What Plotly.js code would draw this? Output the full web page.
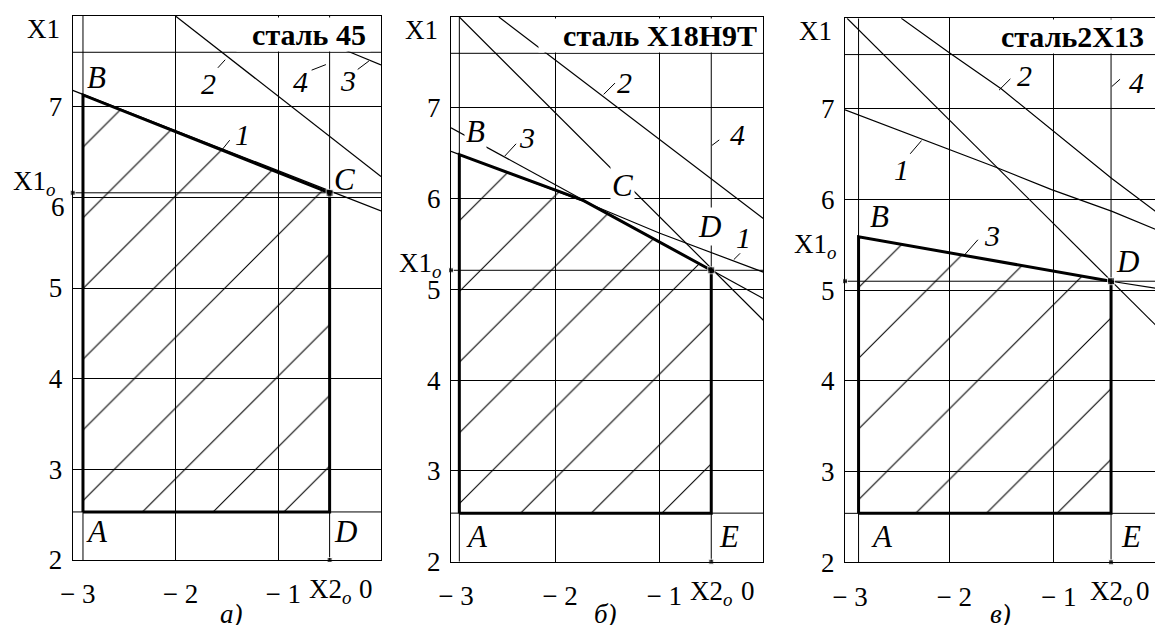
<!DOCTYPE html>
<html>
<head>
<meta charset="utf-8">
<script src="https://cdn.plot.ly/plotly-3.0.1.min.js"></script>
<style>html,body{margin:0;padding:0;overflow:hidden;background:#fff}</style>
</head>
<body>
<div id="chart" style="width:1160px;height:625px"></div>
<script>
// общие оси
const X2_RANGE = [-3, 0];
const X1_RANGE = [2, 8];
const X2_TICKS = [-3, -2, -1];
const X2_TEXT = ['\u2212 3', '\u2212 2', '\u2212 1'];
const X1_TICKS = [2, 3, 4, 5, 6, 7];
const X1_MAX = 7.6;

// а) сталь 45
const a_title = 'сталь 45';
const a_x2min = -2.9, a_x2o = -0.5, a_x1min = 2.53, a_x1o = 6.05;
const a_region_x2 = [a_x2min, a_x2min, a_x2o, a_x2o];
const a_region_x1 = [a_x1min, 7.13, a_x1o, a_x1min];
const a_c1_x2 = [-3, 0], a_c1_x1 = [7.18, 5.85];
const a_c2_x2 = [-2, 0], a_c2_x1 = [8, 6.23];
const a_c3_x2 = [-0.34, 0], a_c3_x1 = [7.62, 7.46];
const a_vtx = ['A', 'B', 'C', 'D'];
const a_lbl = ['1', '2', '3', '4'];
const a_lbl_x2 = [-1.55, -1.49, -0.11, a_x2o];
const a_lbl_x1 = [6.52, 7.55, 7.51, 7.48];

// б) сталь Х18Н9Т
const b_title = 'сталь Х18Н9Т';
const b_x2min = -2.92, b_x2o = -0.5, b_x1min = 2.535, b_x1o = 5.21;
const b_region_x2 = [b_x2min, b_x2min, -1.73, b_x2o, b_x2o];
const b_region_x1 = [b_x1min, 6.485, 5.98, b_x1o, b_x1min];
const b_c1_x2 = [-3, -1.73, -1, 0], b_c1_x1 = [6.52, 5.97, 5.62, 5.19];
const b_c2_x2 = [-2.54, 0], b_c2_x1 = [8, 5.78];
const b_c3_x2 = [-3, 0], b_c3_x1 = [6.78, 4.9];
const b_c5_x2 = [-2.92, 0], b_c5_x1 = [8, 4.66];
const b_vtx = ['A', 'B', 'C', 'D', 'E'];
const b_lbl = ['1', '2', '3', '4'];
const b_lbl_x2 = [-0.29, -1.54, -2.49, b_x2o];
const b_lbl_x1 = [5.32, 7.14, 6.46, 6.58];

// в) сталь 2Х13
const c_title = 'сталь2Х13';
const c_x2min = -2.87, c_x2o = -0.45, c_x1min = 2.54, c_x1o = 5.1;
const c_region_x2 = [c_x2min, c_x2min, c_x2o, c_x2o];
const c_region_x1 = [c_x1min, 5.59, c_x1o, c_x1min];
const c_c1_x2 = [-3, -2.27, -1.56, -1.02, -0.44, 0];
const c_c1_x1 = [6.99, 6.67, 6.36, 6.11, 5.87, 5.66];
const c_c2_x2 = [-2.46, -2, -1.5, -0.99, -0.44, 0];
const c_c2_x1 = [8, 7.62, 7.22, 6.74, 6.23, 5.85];
const c_c3_x2 = [-2.87, -0.45, 0], c_c3_x1 = [5.59, 5.1, 5.02];
const c_c5_x2 = [-2.98, 0], c_c5_x1 = [8, 4.59];
const c_vtx = ['A', 'B', 'D', 'E'];
const c_lbl = ['1', '2', '3', '4'];
const c_lbl_x2 = [-2.26, -1.53, -1.87, c_x2o];
const c_lbl_x1 = [6.66, 7.2, 5.37, 7.24];

const W = 1160, H = 625;
const SERIF = 'Liberation Serif, Times New Roman, serif';
const BLACK = '#000';

const panels = [
  {
    title: a_title, caption: 'а)', x2min: a_x2min, x2o: a_x2o, x1min: a_x1min, x1o: a_x1o,
    region: [a_region_x2, a_region_x1],
    curves: [[a_c1_x2, a_c1_x1], [a_c2_x2, a_c2_x1], [a_c3_x2, a_c3_x1]],
    vtx: a_vtx, lbl: a_lbl, lblX: a_lbl_x2, lblY: a_lbl_x1,
    // оформление: сдвиги подписей в пикселях
    dom: {x: [72.7, 381], y: [16, 560]},
    vtxShift: [[14, -20], [14, 17], [15, 13], [16, -20]], vtxBg: [],
    lead: [[8, -10, 0], [-10, 11, 4], [-12, 9, 1], [-18, 7, 4]],
    lblShift: [[21, 16], [-19, -27], [-22, -20], [-29, -18]],
    box: {w: 125, xshift: -10}, x1oShift: [-16, 10], captionX: -1.45, six: -10
  },
  {
    title: b_title, caption: 'б)', x2min: b_x2min, x2o: b_x2o, x1min: b_x1min, x1o: b_x1o,
    region: [b_region_x2, b_region_x1],
    curves: [[b_c1_x2, b_c1_x1], [b_c2_x2, b_c2_x1], [b_c3_x2, b_c3_x1], [b_c5_x2, b_c5_x1]],
    vtx: b_vtx, lbl: b_lbl, lblX: b_lbl_x2, lblY: b_lbl_x1,
    dom: {x: [451, 763.3], y: [17, 561.7]},
    vtxShift: [[18, -23], [16, 23], [39, 15], [-2, 44], [18, -23]], vtxBg: [1, 2, 3],
    lead: [[7, -7, 1], [12, -12, 1], [12, -13, 1], [8, -6, 1]],
    lblShift: [[10, 23], [22, 13], [23, 19], [26, 11]],
    box: {w: 214, xshift: -1}, x1oShift: [-8, 5], captionX: -1.52, six: 0
  },
  {
    title: c_title, caption: 'в)', x2min: c_x2min, x2o: c_x2o, x1min: c_x1min, x1o: c_x1o,
    region: [c_region_x2, c_region_x1],
    curves: [[c_c1_x2, c_c1_x1], [c_c2_x2, c_c2_x1], [c_c3_x2, c_c3_x1], [c_c5_x2, c_c5_x1]],
    vtx: c_vtx, lbl: c_lbl, lblX: c_lbl_x2, lblY: c_lbl_x1,
    dom: {x: [845, 1158], y: [18.3, 562.3]},
    vtxShift: [[23, -23], [21, 20], [16, 20], [20, -23]], vtxBg: [],
    lead: [[-12, 14, 1], [12, -12, 1], [15, -17, 1], [9, -8, 1]],
    lblShift: [[-21, -30], [26, 15], [29, 21], [25, 5]],
    box: {w: 150, xshift: -9}, x1oShift: [-7, 35], captionX: -1.51, six: 0
  }
];

const traces = [];
const annotations = [];
const shapes = [];
const layout = {
  width: W, height: H,
  margin: {l: 0, r: 0, t: 0, b: 0},
  paper_bgcolor: '#fff', plot_bgcolor: '#fff',
  showlegend: false,
  font: {family: SERIF, color: BLACK}
};

function label(xa, ya, x, y, text, extra) {
  annotations.push(Object.assign({
    xref: xa, yref: ya, x: x, y: y, text: text, showarrow: false,
    font: {family: SERIF, size: 27, color: BLACK}
  }, extra));
}

panels.forEach(function (p, i) {
  const n = i + 1;
  const xa = n === 1 ? 'x' : 'x' + n;
  const ya = n === 1 ? 'y' : 'y' + n;
  const common = {xaxis: xa, yaxis: ya, hoverinfo: 'skip', showlegend: false};

  // штриховка допустимой области
  traces.push(Object.assign({
    x: p.region[0], y: p.region[1], mode: 'none', fill: 'toself',
    fillcolor: 'rgba(0,0,0,0)',
    fillpattern: {shape: '/', size: 50, solidity: 0.022, fgcolor: BLACK, bgcolor: 'rgba(0,0,0,0)'}
  }, common));

  // маркеры ограничений и оптимума
  traces.push(Object.assign({
    x: [p.x2min, p.x2min, null, p.x2o, p.x2o, null,
        X2_RANGE[0], X2_RANGE[1], null, X2_RANGE[0], X2_RANGE[1], null, X2_RANGE[0], X2_RANGE[1]],
    y: [X1_RANGE[0], X1_RANGE[1], null, X1_RANGE[0], X1_RANGE[1], null,
        p.x1min, p.x1min, null, p.x1o, p.x1o, null, X1_MAX, X1_MAX],
    mode: 'lines', line: {color: BLACK, width: 1}
  }, common));

  p.curves.forEach(function (c) {
    traces.push(Object.assign({x: c[0], y: c[1], mode: 'lines', line: {color: BLACK, width: 1.2}}, common));
  });

  // граница области
  traces.push(Object.assign({
    x: p.region[0].concat([p.region[0][0]]), y: p.region[1].concat([p.region[1][0]]),
    mode: 'lines', line: {color: BLACK, width: 3}
  }, common));

  traces.push(Object.assign({
    x: [X2_RANGE[0], p.x2o, p.x2o], y: [p.x1o, X1_RANGE[0], p.x1o], mode: 'markers',
    marker: {symbol: 'square', size: [5, 5, 7], color: BLACK}, cliponaxis: false
  }, common));

  const axisBase = {
    ticks: '', showgrid: true, gridcolor: BLACK, gridwidth: 1, zeroline: false,
    showline: true, mirror: true, linecolor: BLACK, linewidth: 1,
    tickfont: {family: SERIF, size: 27, color: BLACK}, fixedrange: true
  };
  layout['xaxis' + (n === 1 ? '' : n)] = Object.assign({
    domain: [p.dom.x[0] / W, p.dom.x[1] / W], range: X2_RANGE, anchor: ya,
    tickvals: X2_TICKS, ticktext: X2_TEXT, ticklabelstandoff: 10, ticklabelshift: 5
  }, axisBase);
  layout['yaxis' + (n === 1 ? '' : n)] = Object.assign({
    domain: [1 - p.dom.y[1] / H, 1 - p.dom.y[0] / H], range: X1_RANGE, anchor: xa,
    tickvals: X1_TICKS,
    ticktext: X1_TICKS.map(function (v) { return (v === 6 && p.six) ? ' ' : String(v); }),
    ticklabelstandoff: 4
  }, axisBase);

  if (p.six) {
    label(xa, ya, X2_RANGE[0], 6, '6', {xanchor: 'right', xshift: -6, yshift: p.six});
  }

  // надпись марки стали
  label(xa, ya, X2_RANGE[1], X1_RANGE[1], '<b>' + p.title + '</b>', {
    xanchor: 'right', yanchor: 'top', xshift: p.box.xshift, yshift: -1,
    width: p.box.w, height: 25, borderpad: 4, bgcolor: '#fff', align: 'right',
    font: {family: SERIF, size: 30, color: BLACK}
  });

  // вершины области
  const vx = p.region[0], vy = p.region[1];
  p.vtx.forEach(function (t, k) {
    label(xa, ya, vx[k], vy[k], '<i>' + t + '</i>', {
      xshift: p.vtxShift[k][0], yshift: p.vtxShift[k][1],
      bgcolor: p.vtxBg.indexOf(k) >= 0 ? '#fff' : 'rgba(0,0,0,0)',
      font: {family: SERIF, size: 31, color: BLACK}
    });
  });

  // номера ограничений: выноска (в пикселях от точки на кривой) и цифра
  p.lbl.forEach(function (t, k) {
    const dx = p.lead[k][0], dy = -p.lead[k][1], gap = p.lead[k][2];
    const len = Math.hypot(dx, dy);
    shapes.push({
      type: 'line', xref: xa, yref: ya, xsizemode: 'pixel', ysizemode: 'pixel',
      xanchor: p.lblX[k], yanchor: p.lblY[k],
      x0: dx * gap / len, y0: dy * gap / len, x1: dx, y1: dy,
      line: {color: BLACK, width: 1}
    });
    label(xa, ya, p.lblX[k], p.lblY[k], '<i>' + t + '</i>', {
      xshift: p.lblShift[k][0], yshift: p.lblShift[k][1],
      font: {family: SERIF, size: 30, color: BLACK}
    });
  });

  label(xa, ya, X2_RANGE[0], X1_RANGE[1], 'X1', {xanchor: 'right', xshift: -11, yshift: -13});
  label(xa, ya, X2_RANGE[0], p.x1o, 'X1<sub><i>o</i></sub>', {xanchor: 'right', xshift: p.x1oShift[0], yshift: p.x1oShift[1]});
  label(xa, ya, p.x2o, X1_RANGE[0], 'X2<sub><i>o</i></sub>', {yanchor: 'top', yshift: -12});
  label(xa, ya, X2_RANGE[1], X1_RANGE[0], '0', {xanchor: 'right', yanchor: 'top', xshift: -6, yshift: -12});
  label(xa, 'paper', p.captionX, 1 - 597 / H, '<i>' + p.caption + '</i>', {
    yanchor: 'top', font: {family: SERIF, size: 27, color: BLACK}
  });
});

layout.annotations = annotations;
layout.shapes = shapes;

Plotly.newPlot('chart', traces, layout, {displayModeBar: false, staticPlot: true});
</script>
</body>
</html>
